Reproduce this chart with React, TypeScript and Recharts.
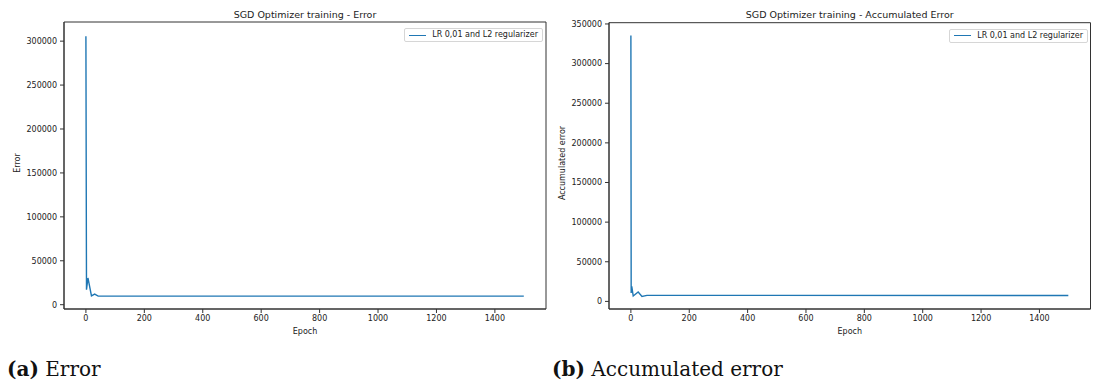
import { LineChart, Line, XAxis, YAxis, ReferenceArea, Legend } from "recharts";

// Two matplotlib-style training curves side by side, with LaTeX-like subcaptions.
const EPOCH_TICKS = [0, 200, 400, 600, 800, 1000, 1200, 1400];
const X_DOMAIN: [number, number] = [-75, 1575];

const ERROR_EPOCHS = [0, 2, 7, 19, 30, 42, 1499];
const ERROR_VALUES = [305700, 17000, 30400, 10000, 12000, 9800, 9800];
const ERROR_TICKS = [0, 50000, 100000, 150000, 200000, 250000, 300000];

const ACC_EPOCHS = [0, 1, 3, 8, 25, 38, 55, 1499];
const ACC_VALUES = [335300, 10600, 18900, 6800, 11800, 6300, 7600, 7500];
const ACC_TICKS = [0, 50000, 100000, 150000, 200000, 250000, 300000, 350000];

const SERIES_NAME = "LR 0,01 and L2 regularizer";
const BLUE = "#1f77b4";
const SANS = "'DejaVu Sans', sans-serif";
const TICK = { fill: "#222", fontSize: 8, fontFamily: SANS };
const CHART_H = 345;

function toRows(xs: number[], ys: number[]) {
  return xs.map((x, i) => ({ epoch: x, value: ys[i] }));
}

function LegendBox() {
  return (
    <div style={{
      display: "flex", alignItems: "center", background: "#fff",
      border: "1px solid #d6d6d6", borderRadius: 2, padding: "1px 4px 1px 4px",
      fontFamily: SANS, fontSize: 8, color: "#222", lineHeight: "10px", whiteSpace: "nowrap",
    }}>
      <span style={{ display: "inline-block", width: 17, height: 0, borderTop: `1.5px solid ${BLUE}`, marginRight: 6 }} />
      {SERIES_NAME}
    </div>
  );
}

function Panel({ left, width, top, right, title, yLabel, yLabelX, rows, yTicks, yDomain, legendRight }: {
  left: number; width: number; top: number; right: number; title: string; yLabel: string;
  yLabelX: number; rows: { epoch: number; value: number }[]; yTicks: number[];
  yDomain: [number, number]; legendRight: number;
}) {
  const plotLeft = 64;
  const plotRight = width - right;
  const center = (plotLeft + plotRight) / 2;
  return (
    <div style={{ position: "absolute", left, top: 0, width, height: CHART_H }}>
      <LineChart width={width} height={CHART_H} data={rows} margin={{ top, right, bottom: 0, left: 0 }}>
        <XAxis
          type="number" dataKey="epoch" domain={X_DOMAIN} ticks={EPOCH_TICKS} allowDataOverflow
          interval={0} height={36} tickSize={4} tickMargin={2} tick={TICK} stroke="#333"
        />
        <YAxis
          type="number" domain={yDomain} ticks={yTicks} allowDataOverflow interval={0}
          width={plotLeft} tickSize={4} tickMargin={3} tick={TICK} stroke="#333"
        />
        <ReferenceArea
          x1={X_DOMAIN[0]} x2={X_DOMAIN[1]} y1={yDomain[0]} y2={yDomain[1]}
          fill="none" stroke="#333" strokeWidth={1} ifOverflow="visible"
        />
        <Legend
          layout="horizontal" verticalAlign="middle" align="center"
          wrapperStyle={{ left: "auto", right: legendRight, top: top + 6, width: "auto", height: "auto" }}
          content={() => <LegendBox />}
        />
        <Line
          type="linear" dataKey="value" name={SERIES_NAME} stroke={BLUE} strokeWidth={1.4}
          dot={false} activeDot={false} isAnimationActive={false}
        />
      </LineChart>
      <div style={{
        position: "absolute", left: 0, width: 2 * center, top: 9, textAlign: "center",
        fontFamily: SANS, fontSize: 9.5, lineHeight: "12px", color: "#222",
      }}>{title}</div>
      <div style={{
        position: "absolute", left: 0, width: 2 * center, top: 326, textAlign: "center",
        fontFamily: SANS, fontSize: 8, lineHeight: "12px", color: "#222",
      }}>Epoch</div>
      <div style={{
        position: "absolute", left: yLabelX, top: 163, transform: "translate(-50%, -50%) rotate(-90deg)",
        fontFamily: SANS, fontSize: 8, lineHeight: "10px", color: "#222", whiteSpace: "nowrap",
      }}>{yLabel}</div>
    </div>
  );
}

const CAPTION = { position: "absolute" as const, top: 357, fontFamily: "'DejaVu Serif', serif", fontSize: 20, lineHeight: "24px", color: "#111" };

export default function App() {
  return (
    <div style={{ position: "fixed", left: 0, top: 0, width: 1096, height: 387, background: "#fff", overflow: "hidden" }}>
      <Panel
        left={0} width={560} top={22} right={14} title="SGD Optimizer training - Error"
        yLabel="Error" yLabelX={18} rows={toRows(ERROR_EPOCHS, ERROR_VALUES)}
        yTicks={ERROR_TICKS} yDomain={[-4900, 321800]} legendRight={17}
      />
      <Panel
        left={545} width={551} top={22.7} right={5.5} title="SGD Optimizer training - Accumulated Error"
        yLabel="Accumulated error" yLabelX={18} rows={toRows(ACC_EPOCHS, ACC_VALUES)}
        yTicks={ACC_TICKS} yDomain={[-9600, 351600]} legendRight={8}
      />
      <div style={{ ...CAPTION, left: 7 }}><b>(a)</b> Error</div>
      <div style={{ ...CAPTION, left: 552 }}><b>(b)</b> Accumulated error</div>
    </div>
  );
}
